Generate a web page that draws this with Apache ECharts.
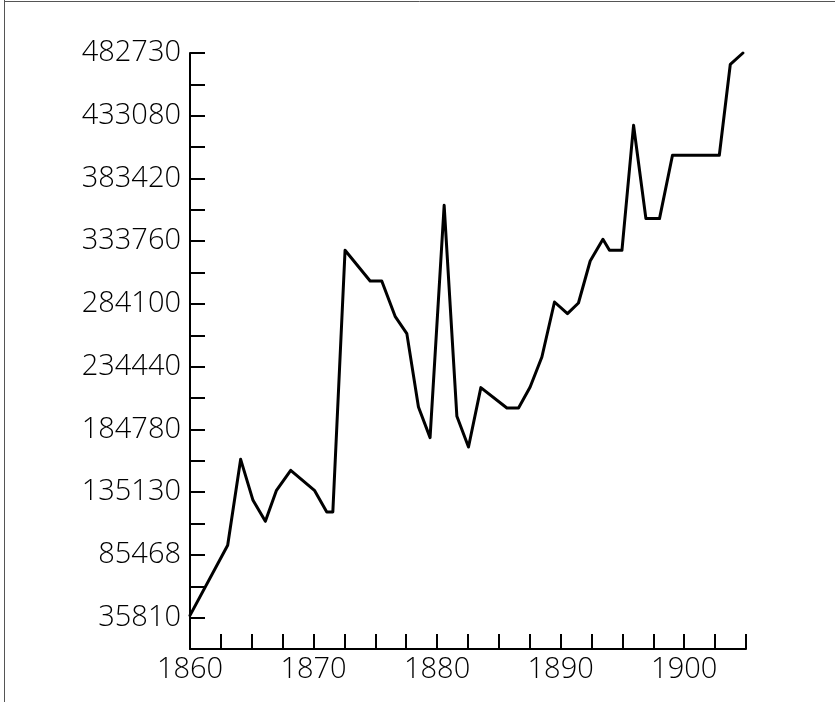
<!DOCTYPE html>
<html>
<head>
<meta charset="utf-8">
<script src="https://cdn.jsdelivr.net/npm/echarts@6/dist/echarts.min.js"></script>
<style>
html,body{margin:0;padding:0;background:#fff;}
#chart{width:835px;height:702px;}
</style>
</head>
<body>
<div id="chart"></div>
<script>
// Data
var years = [1860, 1863.05, 1864.1, 1865.1, 1866.1, 1867.0, 1868.15, 1870.07, 1871.07, 1871.56,
  1872.55, 1874.58, 1875.52, 1876.6, 1877.55, 1878.49, 1879.43, 1880.57, 1881.6, 1882.54,
  1883.54, 1885.65, 1886.59, 1887.53, 1888.48, 1889.5, 1890.55, 1891.44, 1892.39, 1893.42,
  1893.95, 1894.96, 1895.9, 1896.9, 1898.0, 1899.05, 1902.84, 1903.73, 1904.75];
var values = [37600, 93040, 161120, 128670, 112040, 136580, 152410, 136580, 119400, 119400,
  326600, 302260, 302260, 274320, 260620, 202520, 178300, 362190, 195160, 170860,
  217880, 201730, 201730, 218350, 242100, 285640, 276460, 284850, 318100, 335270,
  326570, 326570, 425500, 351660, 351660, 401770, 401770, 473800, 482730];
var yTickLabels = ['35810','85468','135130','184780','234440','284100','333760','383420','433080','482730'];
var xTickLabels = ['1860','1870','1880','1890','1900'];

var labelVals = yTickLabels.map(Number);
var halfStep = (labelVals[labelVals.length-1] - labelVals[0]) / (labelVals.length - 1) / 2;
var yMin = labelVals[0] - halfStep;
var yTicks = [];
for (var i = 0; i < labelVals.length; i++) {
  if (i > 0) yTicks.push((labelVals[i-1] + labelVals[i]) / 2);
  yTicks.push(labelVals[i]);
}
var labelMap = {};
labelVals.forEach(function(v, i){ labelMap[v] = yTickLabels[i]; });

var seriesData = years.map(function(y, i){ return [y, values[i]]; });

var font = '"Open Sans", "DejaVu Sans", sans-serif';
var chart = echarts.init(document.getElementById('chart'), null, {renderer: 'canvas'});
chart.setOption({
  animation: false,
  backgroundColor: '#fff',
  grid: {left: 190, right: 89, top: 53, bottom: 53, containLabel: false},
  xAxis: {
    type: 'value',
    min: 1860, max: 1905, interval: 2.5,
    axisLine: {show: true, onZero: false, lineStyle: {color: '#000', width: 2}},
    axisTick: {show: true, inside: true, length: 15, lineStyle: {color: '#000', width: 2}},
    splitLine: {show: false},
    axisLabel: {
      show: true, color: '#000', fontSize: 29, fontFamily: font, fontWeight: 300, margin: 6,
      formatter: function(v){
        var s = String(Math.round(v));
        return (Math.abs(v % 10) < 1e-6 && xTickLabels.indexOf(s) >= 0) ? s : '';
      }
    }
  },
  yAxis: {
    type: 'value',
    min: yMin, max: labelVals[labelVals.length-1],
    axisLine: {show: true, onZero: false, lineStyle: {color: '#000', width: 2}},
    axisTick: {show: true, inside: true, length: 15, customValues: yTicks, lineStyle: {color: '#000', width: 2}},
    splitLine: {show: false},
    axisLabel: {
      show: true, color: '#000', fontSize: 29, fontFamily: font, fontWeight: 300, margin: 9,
      customValues: labelVals,
      formatter: function(v){ return labelMap[v] !== undefined ? labelMap[v] : ''; }
    }
  },
  series: [{
    type: 'line',
    data: seriesData,
    showSymbol: false,
    symbol: 'none',
    lineStyle: {color: '#000', width: 3, join: 'round', cap: 'round'},
    clip: false
  }],
  graphic: [
    {type: 'line', shape: {x1: 4.5, y1: 0, x2: 4.5, y2: 702}, style: {stroke: '#555', lineWidth: 1}},
    {type: 'line', shape: {x1: 4, y1: 1.5, x2: 835, y2: 1.5}, style: {stroke: '#555', lineWidth: 1}}
  ]
});
</script>
</body>
</html>
